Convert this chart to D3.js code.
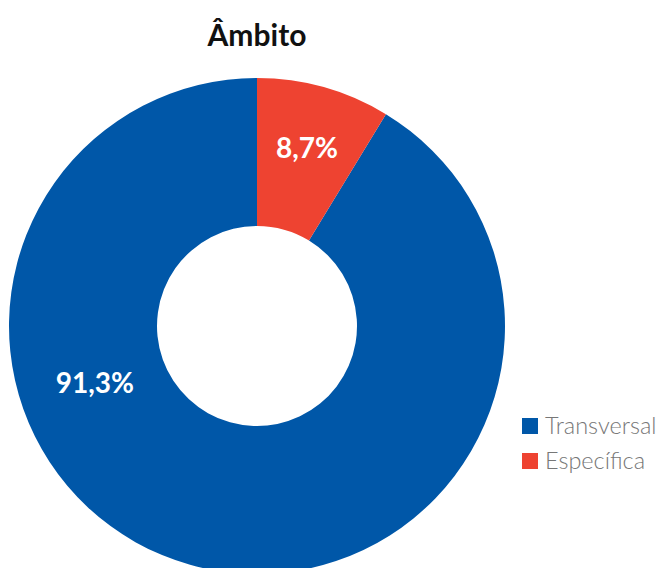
<!DOCTYPE html>
<html>
<head>
<meta charset="utf-8">
<script src="https://cdn.jsdelivr.net/npm/d3@7"></script>
<style>
  body { margin: 0; background: #fff; }
  svg { display: block; }
</style>
</head>
<body>
<script>
  // data
  const categories = ["Transversal", "Específica"];
  const values = [91.3, 8.7];
  const labels = ["91,3%", "8,7%"];
  const colors = ["#0057A8", "#EE4331"];

  const width = 658, height = 568;
  const cx = 257, cy = 326;
  const outerR = 248, innerR = 100;

  const svg = d3.select("body").append("svg")
    .attr("width", width)
    .attr("height", height);

  svg.append("text")
    .attr("x", cx)
    .attr("y", 46)
    .attr("text-anchor", "middle")
    .style("font", "bold 30px Lato, sans-serif")
    .attr("fill", "#111")
    .text("Âmbito");

  // red slice starts at 12 o'clock going clockwise, blue fills the rest
  const pie = d3.pie().sort(null).value(d => d.value)
    .startAngle(-2 * Math.PI * values[0] / 100)
    .endAngle(2 * Math.PI - 2 * Math.PI * values[0] / 100);

  const data = categories.map((c, i) => ({ name: c, value: values[i], label: labels[i], color: colors[i] }));

  const arc = d3.arc().innerRadius(innerR).outerRadius(outerR);

  const g = svg.append("g").attr("transform", `translate(${cx},${cy})`);

  const arcs = pie(data);

  g.selectAll("path")
    .data(arcs)
    .join("path")
      .attr("d", arc)
      .attr("fill", d => d.data.color);

  // label placement: blue label sits left-low, red label at slice middle
  const labelPos = d => {
    if (d.index === 0) {
      const a = 250.6 * Math.PI / 180;
      return [172 * Math.sin(a), -172 * Math.cos(a)];
    }
    return d3.arc().innerRadius(185).outerRadius(185).centroid(d);
  };

  g.selectAll("text.val")
    .data(arcs)
    .join("text")
      .attr("class", "val")
      .attr("transform", d => `translate(${labelPos(d)})`)
      .attr("dy", "0.35em")
      .attr("text-anchor", "middle")
      .attr("fill", "#fff")
      .style("font", "bold 28px Lato, sans-serif")
      .text(d => d.data.label);

  // legend
  const legend = svg.append("g").attr("transform", "translate(522,418)");
  const item = legend.selectAll("g")
    .data(data)
    .join("g")
      .attr("transform", (d, i) => `translate(0,${i * 35})`);
  item.append("rect")
    .attr("width", 16).attr("height", 16)
    .attr("fill", d => d.color);
  item.append("text")
    .attr("x", 23).attr("y", 8)
    .attr("dy", "0.35em")
    .attr("fill", "#777")
    .style("font", "300 23.5px Lato, sans-serif")
    .text(d => d.name);
</script>
</body>
</html>
